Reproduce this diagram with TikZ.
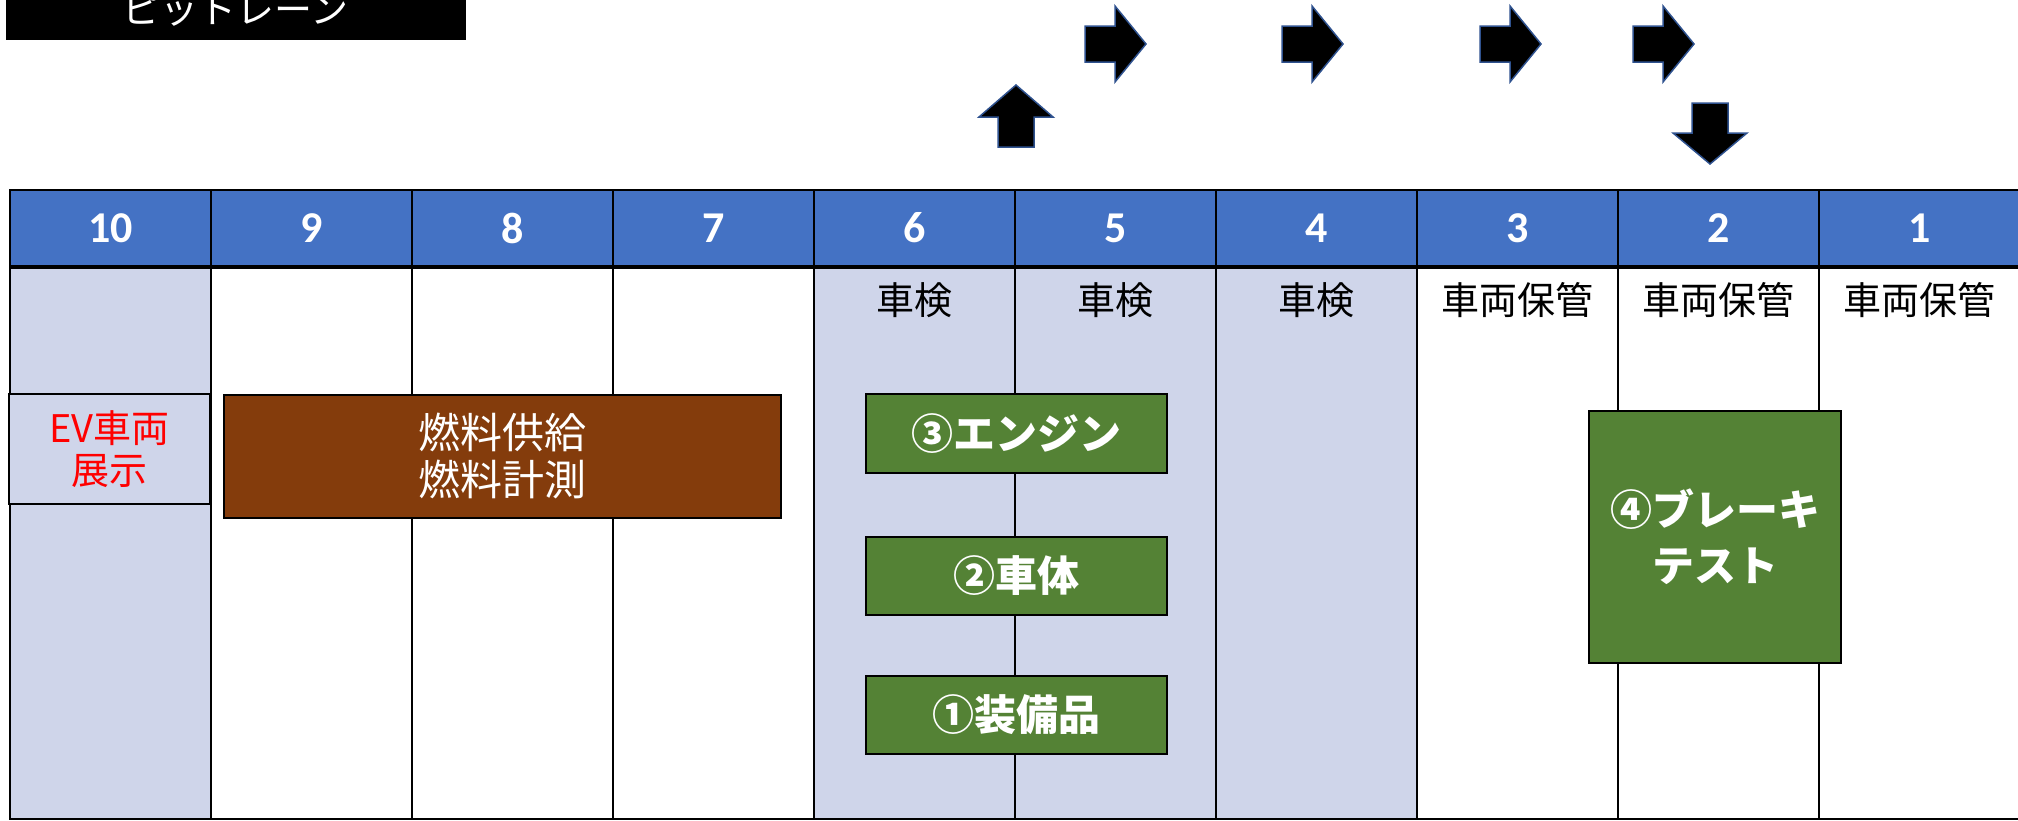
\documentclass[tikz,border=0pt]{standalone}
\usepackage{fontspec}
\setmainfont{Noto Sans CJK JP}
\newfontfamily\numfont{Carlito}
\usepackage{tikz}

\definecolor{headblue}{HTML}{4472C4}
\definecolor{lavender}{HTML}{CFD5EA}
\definecolor{rust}{HTML}{843C0C}
\definecolor{leaf}{HTML}{548235}
\definecolor{arrowline}{HTML}{2F528F}

\begin{document}
\begin{tikzpicture}[x=1pt, y=-1pt,
    headcell/.style={rectangle, draw, line width=2pt, fill=headblue, text=white, minimum width=201pt, minimum height=76pt, inner sep=0pt, font=\numfont\bfseries\fontsize{44}{50}\selectfont},
    bodycell/.style={rectangle, draw, line width=2pt, minimum width=201pt, minimum height=553pt, inner sep=0pt},
    celllabel/.style={font=\fontsize{38}{44}\selectfont},
    taskbox/.style={rectangle, draw, line width=2pt, fill=leaf, text=white, align=center, inner sep=0pt, font=\bfseries\fontsize{42}{56}\selectfont},
    blockarrow/.style={fill=black, draw=arrowline, line width=1.5pt, line join=miter}]
        \clip (0,0) rectangle (2018,820);
        \useasboundingbox (0,0) rectangle (2018,820);
        % Title
        \node[rectangle, draw, fill=black, text=white, minimum width=459pt, minimum height=58pt, font=\fontsize{38}{44}\selectfont] (pit) at (235.5,10) {ピットレーン};
        % Body columns
        \node[bodycell, fill=lavender] (b10) at (110.5,542.5) {};
        \node[bodycell] (b9) at (311.5,542.5) {};
        \node[bodycell] (b8) at (512.5,542.5) {};
        \node[bodycell] (b7) at (713.5,542.5) {};
        \node[bodycell, fill=lavender] (b6) at (914.5,542.5) {};
        \node[bodycell, fill=lavender] (b5) at (1115.5,542.5) {};
        \node[bodycell, fill=lavender] (b4) at (1316.5,542.5) {};
        \node[bodycell] (b3) at (1517.5,542.5) {};
        \node[bodycell] (b2) at (1718.5,542.5) {};
        \node[bodycell] (b1) at (1919.5,542.5) {};
        % Header row
        \node[headcell] (h10) at (110.5,228) {10};
        \node[headcell] (h9) at (311.5,228) {9};
        \node[headcell] (h8) at (512.5,228) {8};
        \node[headcell] (h7) at (713.5,228) {7};
        \node[headcell] (h6) at (914.5,228) {6};
        \node[headcell] (h5) at (1115.5,228) {5};
        \node[headcell] (h4) at (1316.5,228) {4};
        \node[headcell] (h3) at (1517.5,228) {3};
        \node[headcell] (h2) at (1718.5,228) {2};
        \node[headcell] (h1) at (1919.5,228) {1};
        \draw[line width=3pt] (h10.south west) -- (h1.south east);
        % Column labels
        \node[celllabel] (l6) at (914.5,300) {車検};
        \node[celllabel] (l5) at (1115.5,300) {車検};
        \node[celllabel] (l4) at (1316.5,300) {車検};
        \node[celllabel] (l3) at (1517.5,300) {車両保管};
        \node[celllabel] (l2) at (1718.5,300) {車両保管};
        \node[celllabel] (l1) at (1919.5,300) {車両保管};
        % Tasks
        \node[rectangle, draw, line width=2pt, fill=lavender, text=red, align=center, minimum width=201pt, minimum height=110pt, inner sep=0pt, font=\fontsize{38}{42}\selectfont] (ev) at (109.5,449) {EV車両\\展示};
        \node[rectangle, draw, line width=2pt, fill=rust, text=white, align=center, minimum width=557pt, minimum height=123pt, inner sep=0pt, font=\fontsize{42}{47}\selectfont] (fuel) at (502.5,456) {燃料供給\\燃料計測};
        \node[taskbox, minimum width=301pt, minimum height=79pt] (engine) at (1016.5,433.5) {③エンジン};
        \node[taskbox, minimum width=301pt, minimum height=78pt] (body) at (1016.5,576) {②車体};
        \node[taskbox, minimum width=301pt, minimum height=78pt] (equip) at (1016.5,715) {①装備品};
        \node[taskbox, minimum width=252pt, minimum height=252pt] (brake) at (1715,537) {④ブレーキ\\テスト};
        % Flow arrows
        \draw[blockarrow] (998,147) -- (998,117) -- (979,117) -- (1016,85) -- (1053,117) -- (1034,117) -- (1034,147) -- cycle;
        \draw[blockarrow] (1085,26) -- ++(30,0) -- ++(0,-20) -- ++(31,38) -- ++(-31,38) -- ++(0,-20) -- ++(-30,0) -- cycle;
        \draw[blockarrow] (1282,26) -- ++(30,0) -- ++(0,-20) -- ++(31,38) -- ++(-31,38) -- ++(0,-20) -- ++(-30,0) -- cycle;
        \draw[blockarrow] (1480,26) -- ++(30,0) -- ++(0,-20) -- ++(31,38) -- ++(-31,38) -- ++(0,-20) -- ++(-30,0) -- cycle;
        \draw[blockarrow] (1633,26) -- ++(30,0) -- ++(0,-20) -- ++(31,38) -- ++(-31,38) -- ++(0,-20) -- ++(-30,0) -- cycle;
        \draw[blockarrow] (1692,103) -- (1728,103) -- (1728,133) -- (1747,133) -- (1710,164) -- (1673,133) -- (1692,133) -- cycle;
    \end{tikzpicture}
\end{document}
